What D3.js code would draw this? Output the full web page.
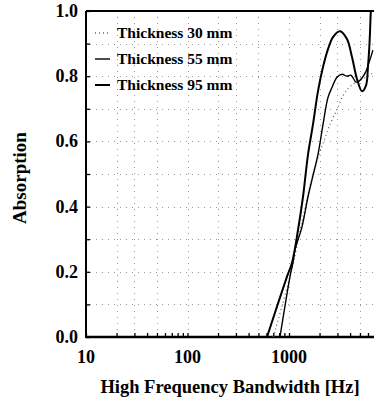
<!DOCTYPE html>
<html>
<head>
<meta charset="utf-8">
<script src="https://cdn.jsdelivr.net/npm/d3@7"></script>
<style>
  body { margin: 0; background: #fff; }
  svg { display: block; }
  text { font-family: "Liberation Serif", "DejaVu Serif", serif; font-weight: bold; fill: #000; }
</style>
</head>
<body>
<svg id="chart" width="374" height="400"></svg>
<script>
// 読み取り値 (周波数 Hz, 吸音率)
const freq30 = [700, 1050, 1400, 1800, 2200, 2600, 3000, 3400, 3900, 4500, 5200, 6000, 6700];
const abs30 = [0, 0.2, 0.38, 0.52, 0.6, 0.66, 0.7, 0.74, 0.765, 0.78, 0.79, 0.8, 0.81];

const freq55 = [815, 1023, 1094, 1146, 1343, 1540, 1723, 1931, 2163, 2423, 2655, 2973, 3330, 3725, 4080, 4570, 4900, 5740, 6140, 6420, 6700];
const abs55 = [0, 0.185, 0.228, 0.268, 0.338, 0.431, 0.495, 0.56, 0.652, 0.735, 0.766, 0.797, 0.806, 0.8, 0.803, 0.782, 0.785, 0.815, 0.843, 0.86, 0.88];

const freq95 = [607, 955, 1071, 1228, 1375, 1540, 1723, 1931, 2163, 2423, 2713, 3180, 3725, 4180, 4680, 5240, 5740, 6000, 6210, 6360, 6500];
const abs95 = [0, 0.185, 0.228, 0.329, 0.431, 0.56, 0.652, 0.754, 0.828, 0.883, 0.92, 0.938, 0.914, 0.858, 0.791, 0.754, 0.772, 0.83, 0.9, 0.98, 1.05];

const legendLabels = ['Thickness 30 mm', 'Thickness 55 mm', 'Thickness 95 mm'];
const xTickLabels = [10, 100, 1000];
const yTickLabels = [0, 0.2, 0.4, 0.6, 0.8, 1.0];

const svg = d3.select('#chart');
const plotLeft = 86, plotTop = 11, plotBottom = 337, plotRight = 374;

const x = d3.scaleLog().domain([10, 10000]).range([plotLeft, plotLeft + 101.5 * 3]);
const y = d3.scaleLinear().domain([0, 1]).range([plotBottom, plotTop]);

svg.append('defs').append('clipPath').attr('id', 'plot')
  .append('rect').attr('x', plotLeft).attr('y', plotTop)
  .attr('width', plotRight - plotLeft).attr('height', plotBottom - plotTop);

// 点線グリッド (スキャン画像のかすれた点を真似る)
const grid = svg.append('g').attr('stroke', '#999').attr('stroke-width', 1)
  .attr('stroke-dasharray', '1,5');
d3.range(0.1, 1.0, 0.1).forEach(v => {
  const gy = Math.round(y(v)) + 0.5;
  grid.append('line').attr('x1', plotLeft + 4).attr('x2', plotRight).attr('y1', gy).attr('y2', gy);
});
[20, 30, 50, 100, 200, 300, 500, 1000, 2000, 3000, 5000].forEach(f => {
  const gx = Math.round(x(f)) + 0.5;
  grid.append('line').attr('x1', gx).attr('x2', gx).attr('y1', plotTop + 6).attr('y2', plotBottom - 4);
});

// 軸
const xAxis = d3.axisBottom(x)
  .tickValues(x.ticks().filter(f => f < 10000))
  .tickSize(-4)
  .tickFormat('');
svg.append('g').attr('transform', `translate(0,${plotBottom})`).call(xAxis)
  .call(g => g.select('.domain').remove())
  .call(g => g.selectAll('line').attr('stroke-width', 1.3));

svg.append('g').selectAll('text').data(xTickLabels).join('text')
  .attr('x', d => x(d)).attr('y', 363)
  .attr('text-anchor', 'middle').attr('font-size', 18)
  .text(d => d);

const yAxis = d3.axisLeft(y)
  .tickValues(d3.range(0, 1.01, 0.1))
  .tickSize(-4)
  .tickFormat('');
svg.append('g').attr('transform', `translate(${plotLeft},0)`).call(yAxis)
  .call(g => g.select('.domain').remove())
  .call(g => g.selectAll('line').attr('stroke-width', 1.3));

svg.append('g').selectAll('text').data(yTickLabels).join('text')
  .attr('x', 78).attr('y', d => y(d) + 6)
  .attr('text-anchor', 'end').attr('font-size', 18)
  .text(d => d3.format('.1f')(d));

// 枠線
svg.append('line').attr('x1', plotLeft).attr('x2', plotLeft).attr('y1', plotTop).attr('y2', plotBottom + 1)
  .attr('stroke', '#000').attr('stroke-width', 2);
svg.append('line').attr('x1', plotLeft).attr('x2', plotRight).attr('y1', plotBottom).attr('y2', plotBottom)
  .attr('stroke', '#000').attr('stroke-width', 2.5);
svg.append('line').attr('x1', plotLeft).attr('x2', plotRight).attr('y1', plotTop).attr('y2', plotTop)
  .attr('stroke', '#000').attr('stroke-width', 2);

// 曲線
const line = d3.line()
  .x(d => x(d[0]))
  .y(d => y(d[1]))
  .curve(d3.curveCatmullRom.alpha(0.5));

const series = [
  { f: freq30, a: abs30, stroke: '#666', width: 1.3, dash: '1,3' },
  { f: freq55, a: abs55, stroke: '#000', width: 1.4, dash: null },
  { f: freq95, a: abs95, stroke: '#000', width: 2, dash: null }
];

const curves = svg.append('g').attr('clip-path', 'url(#plot)');
series.forEach(s => {
  curves.append('path')
    .datum(d3.zip(s.f, s.a))
    .attr('fill', 'none')
    .attr('stroke', s.stroke)
    .attr('stroke-width', s.width)
    .attr('stroke-dasharray', s.dash)
    .attr('d', line);
});

// 凡例
const legend = svg.append('g');
legendLabels.forEach((label, i) => {
  const ly = 33 + i * 26;
  const s = series[i];
  legend.append('line')
    .attr('x1', 95).attr('x2', 110).attr('y1', ly).attr('y2', ly)
    .attr('stroke', s.stroke).attr('stroke-width', s.width).attr('stroke-dasharray', s.dash);
  legend.append('text')
    .attr('x', 117).attr('y', ly + 5)
    .attr('font-size', 15.5)
    .text(label);
});

// 軸タイトル
svg.append('text')
  .attr('x', 230).attr('y', 393)
  .attr('text-anchor', 'middle').attr('font-size', 18.5)
  .text('High Frequency Bandwidth [Hz]');

svg.append('text')
  .attr('transform', 'translate(26,178) rotate(-90)')
  .attr('text-anchor', 'middle').attr('font-size', 19)
  .text('Absorption');
</script>
</body>
</html>
